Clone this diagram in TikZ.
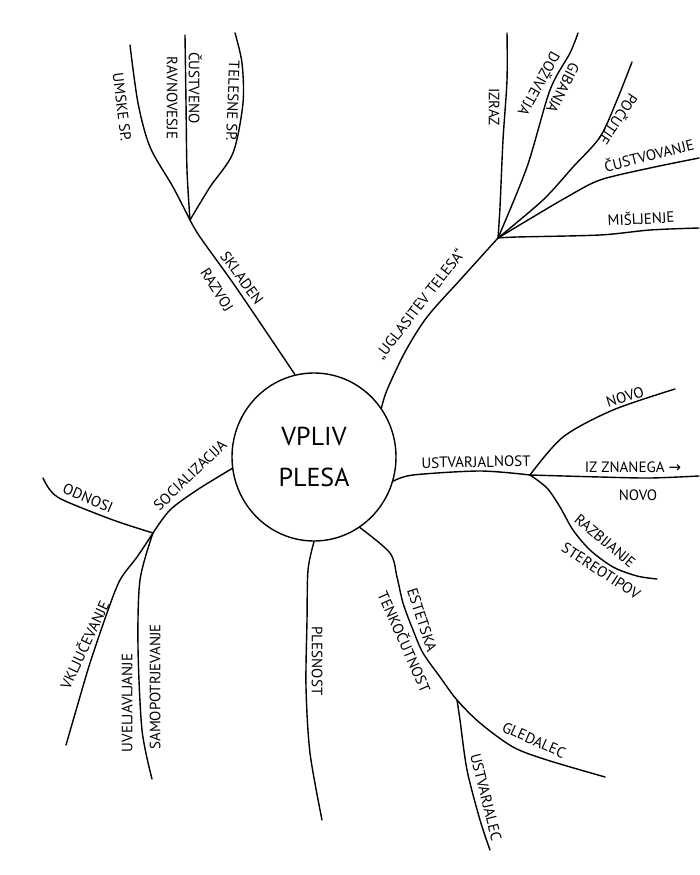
\documentclass[tikz,border=0pt]{standalone}
\usepackage{fontspec}
\setmainfont{PT Sans}
\newfontfamily\symfont{DejaVu Sans}
\usetikzlibrary{shapes.geometric}

\begin{document}
\begin{tikzpicture}[x=1pt,y=-1pt,
  branch/.style={line width=1.4pt, line cap=round, line join=round},
  lbl/.style={font=\fontsize{15}{15}\selectfont, inner sep=0pt, text height=10.5pt, text depth=0pt},
  hub/.style={ellipse, draw, line width=1.4pt, minimum width=164pt, minimum height=168pt,
    inner sep=0pt, align=center, font=\fontsize{26}{41}\selectfont}]
\useasboundingbox (0,0) rectangle (699,875);
\fill[white] (0,0) rectangle (699,875);

% central topic
\node[hub] (c) at (314,457) {VPLIV\\PLESA};

% junctions
\coordinate (jA) at (190,220);
\coordinate (jB) at (498,238);
\coordinate (jU) at (530,475);
\coordinate (jE) at (457,700);
\coordinate (jS) at (153,533);

% ---- skladen razvoj
\draw[branch] plot[smooth] coordinates {(c.103) (267,333) (233,283) (200,237) (jA)};
\node[lbl, rotate=-54] (skl) at (242,278) {SKLADEN};
\node[lbl, rotate=-58] (raz) at (217,290) {RAZVOJ};

\coordinate (eUm) at (130,45);
\coordinate (eCu) at (185,35);
\coordinate (eTe) at (235,33);
\draw[branch] plot[smooth] coordinates {(jA) (173,187) (150,147) (138,103) (eUm)};
\draw[branch] plot[smooth] coordinates {(jA) (187,170) (186,103) (eCu)};
\draw[branch] plot[smooth] coordinates {(jA) (210,187) (233,153) (243,103) (242,63) (eTe)};
\node[lbl, rotate=-83] (umske) at (122,107) {UMSKE SP.};
\node[lbl, rotate=-90] (cust) at (194,88) {ČUSTVENO};
\node[lbl, rotate=-90] (ravn) at (172,98) {RAVNOVESJE};
\node[lbl, rotate=-92] (tel) at (233,101) {TELESNE SP.};

% ---- uglasitev telesa
\draw[branch] plot[smooth] coordinates {(c.36) (387,390) (405,352) (427,317) (460,280) (jB)};
\node[lbl, rotate=52] (ugl) at (420,304) {„UGLASITEV TELESA“};

\coordinate (eIz) at (507,33);
\coordinate (eGi) at (578,33);
\coordinate (ePo) at (632,62);
\coordinate (eCs) at (699,158);
\coordinate (eMi) at (699,228);
\draw[branch] plot[smooth] coordinates {(jB) (500,207) (503,140) (507,80) (eIz)};
\draw[branch] plot[smooth] coordinates {(jB) (527,167) (550,90) (570,53) (eGi)};
\draw[branch] plot[smooth] coordinates {(jB) (543,200) (573,167) (600,137) (617,100) (ePo)};
\draw[branch] plot[smooth] coordinates {(jB) (533,217) (567,197) (600,180) (650,168) (eCs)};
\draw[branch] plot[smooth] coordinates {(jB) (517,237) (600,235) (650,230) (eMi)};
\node[lbl, rotate=-90] (izraz) at (494,107) {IZRAZ};
\node[lbl, rotate=-117] (gib) at (563,88) {GIBANJA};
\node[lbl, rotate=-119] (doz) at (539,84) {DOŽIVETJA};
\node[lbl, rotate=-124] (poc) at (618,119) {POČUTJE};
\node[lbl, rotate=14] (custv) at (649,156) {ČUSTVOVANJE};
\node[lbl, rotate=3] (misl) at (641,219) {MIŠLJENJE};

% ---- ustvarjalnost
\draw[branch] plot[smooth] coordinates {(c.-17) (413,475) (480,471) (jU)};
\node[lbl, rotate=1] (ustv) at (476,462) {USTVARJALNOST};

\coordinate (eNo) at (675,389);
\coordinate (eZn) at (699,476);
\coordinate (eRa) at (657,579);
\draw[branch] plot[smooth] coordinates {(jU) (563,437) (613,410) (eNo)};
\draw[branch] plot[smooth] coordinates {(jU) (600,477) (650,478) (eZn)};
\draw[branch] plot[smooth] coordinates {(jU) (547,488) (560,507) (573,530) (590,550) (613,567) (637,576) (eRa)};
\node[lbl, rotate=17] (novo1) at (625,397) {NOVO};
\node[lbl] (zn) at (633,467) {IZ ZNANEGA {\symfont →}};
\node[lbl] (novo2) at (638,495) {NOVO};
\node[lbl, rotate=-40] (razb) at (605,541) {RAZBIJANJE};
\node[lbl, rotate=-33] (ster) at (601,571) {STEREOTIPOV};

% ---- estetska tenkočutnost
\coordinate (eGl) at (605,777);
\coordinate (eUs) at (490,850);
\draw[branch] plot[smooth] coordinates {(c.-57) (390,553) (397,577) (403,603) (413,630) (423,653) (440,677) (jE) (480,723) (513,747) (547,760) (eGl)};
\draw[branch] plot[smooth] coordinates {(jE) (460,720) (467,770) (480,820) (eUs)};
\node[lbl, rotate=-72] (est) at (422,620) {ESTETSKA};
\node[lbl, rotate=-66] (tenk) at (404,642) {TENKOČUTNOST};
\node[lbl, rotate=-24] (gled) at (534,740) {GLEDALEC};
\node[lbl, rotate=-76] (ustvl) at (486,797) {USTVARJALEC};

% ---- plesnost
\coordinate (ePl) at (322,820);
\draw[branch] plot[smooth] coordinates {(c.-90) (308,570) (307,620) (306,687) (310,753) (ePl)};
\node[lbl, rotate=-90] (ples) at (317,661) {PLESNOST};

% ---- socializacija
\draw[branch] plot[smooth] coordinates {(c.188) (197,490) (170,510) (jS)};
\node[lbl, rotate=44] (soc) at (190,475) {SOCIALIZACIJA};

\coordinate (eOd) at (43,478);
\coordinate (eVk) at (66,745);
\coordinate (eUv) at (152,779);
\draw[branch] plot[smooth] coordinates {(jS) (113,520) (63,500) (50,490) (eOd)};
\draw[branch] plot[smooth] coordinates {(jS) (137,557) (120,580) (107,613) (90,663) (77,707) (eVk)};
\draw[branch] plot[smooth] coordinates {(jS) (140,580) (138,647) (142,730) (eUv)};
\node[lbl, rotate=-23] (odn) at (88,498) {ODNOSI};
\node[lbl, rotate=65] (vklj) at (85,645) {VKLJUČEVANJE};
\node[lbl, rotate=90] (uvel) at (127,703) {UVELJAVLJANJE};
\node[lbl, rotate=90] (samo) at (155,687) {SAMOPOTRJEVANJE};
\end{tikzpicture}
\end{document}
